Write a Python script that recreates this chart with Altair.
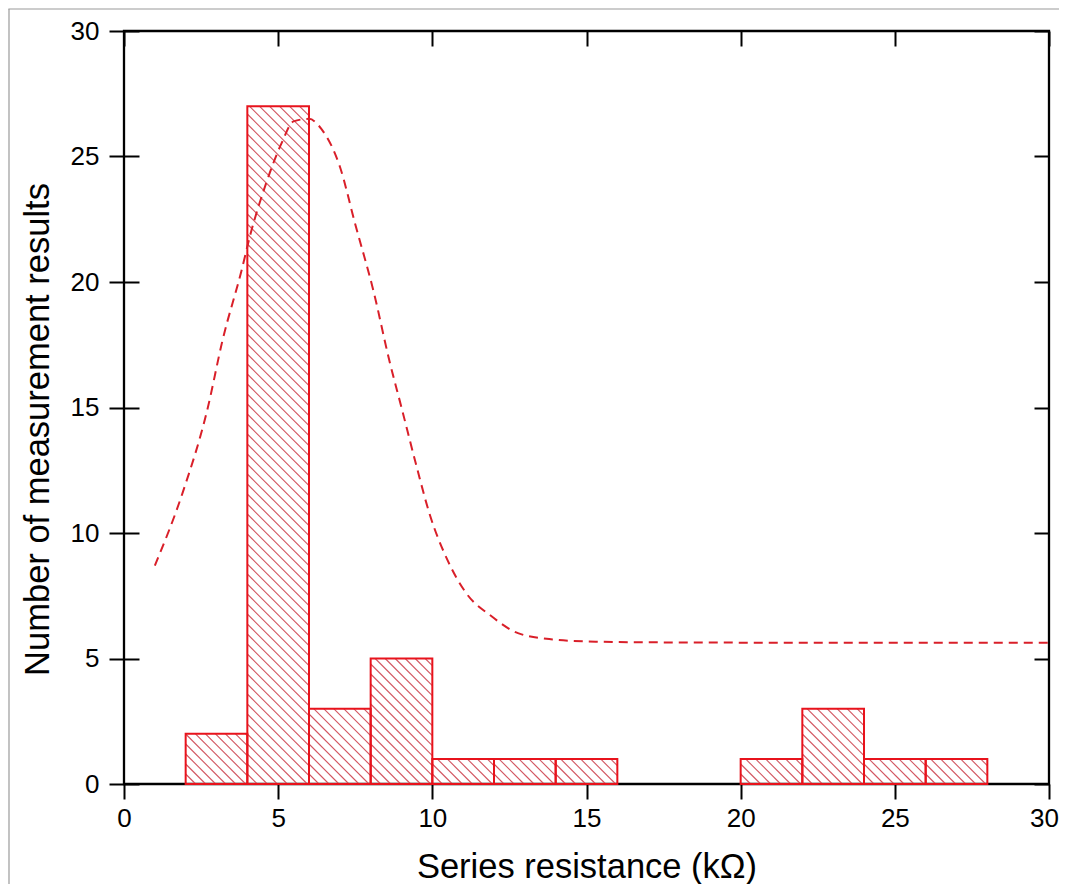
import altair as alt
import pandas as pd

# ---- data ----
bin_start = [2, 4, 6, 8, 10, 12, 14, 20, 22, 24, 26]
bin_end = [4, 6, 8, 10, 12, 14, 16, 22, 24, 26, 28]
counts = [2, 27, 3, 5, 1, 1, 1, 1, 3, 1, 1]

fit_x = [1.0, 1.9, 2.7, 3.2, 3.8, 4.1, 4.6, 5.1, 5.5, 6.0, 6.4, 7.0, 7.5, 8.1,
         8.6, 9.0, 9.5, 9.9, 10.5, 11.1, 11.9, 12.8, 13.9, 15.3, 17.8, 22.0, 30.0]
fit_y = [8.7, 11.6, 14.9, 17.7, 20.4, 21.9, 23.9, 25.5, 26.4, 26.5, 26.1, 24.6, 22.3, 19.6,
         16.9, 15.0, 12.6, 10.8, 8.9, 7.6, 6.7, 6.0, 5.76, 5.67, 5.64, 5.63, 5.63]

x_ticks = [0, 5, 10, 15, 20, 25, 30]
y_ticks = [0, 5, 10, 15, 20, 25, 30]

# ---- layout constants ----
W, H = 925, 753
PAD = {"left": 116, "top": 23, "right": 10, "bottom": 100}
XMAX, YMAX = 30, 30
FONT = "Liberation Sans"
BAR_RED = "#e8131c"
HATCH = "#d25560"
CURVE_RED = "#d91f29"

bars = pd.DataFrame({"x0": bin_start, "x1": bin_end, "n": counts, "zero": [0] * len(counts)})
fit = pd.DataFrame({"x": fit_x, "y": fit_y})

# hatch segments ("\\" pattern) clipped to each bar, spacing in pixels
px_x = W / XMAX
px_y = H / YMAX
k = px_x / px_y
dt = 10 / px_y
rows = []
for x0, x1, h in zip(bin_start, bin_end, counts):
    t = dt
    tmax = h + k * (x1 - x0)
    while t < tmax:
        xs = max(x0, x0 + (t - h) / k)
        ys = t - k * (xs - x0)
        xe = min(x1, x0 + t / k)
        ye = t - k * (xe - x0)
        if xe > xs:
            rows.append({"xs": xs, "ys": ys, "xe": xe, "ye": ye})
        t += dt
hatch_df = pd.DataFrame(rows)

xscale = alt.Scale(domain=[0, XMAX], nice=False, zero=False)
yscale = alt.Scale(domain=[0, YMAX], nice=False, zero=False)

common = dict(grid=False, domain=False, tickColor="black", tickWidth=2, tickSize=15)

ax_bottom = alt.Axis(orient="bottom", values=x_ticks, format="d", labelFont=FONT,
                     labelFontSize=26, labelColor="black", labelPadding=6, labelFlush=False,
                     labelOffset={"condition": {"test": "datum.value === 30", "value": -5}, "value": 0},
                     title="Series resistance (kΩ)", titleFont=FONT, titleFontSize=34.5,
                     titleFontWeight="normal", titleColor="black", titleY=93,
                     titleBaseline="alphabetic", **common)
ax_left = alt.Axis(orient="left", values=y_ticks, format="d", labelFont=FONT,
                   labelFontSize=26, labelColor="black", labelPadding=10, labelFlush=False,
                   title="Number of measurement results", titleFont=FONT, titleFontSize=34.5,
                   titleFontWeight="normal", titleColor="black", titleX=-76, titleY=398,
                   titleBaseline="alphabetic", **common)
ax_top_in = alt.Axis(orient="top", offset=-15, values=x_ticks, labels=False, title="", **common)
ax_left_in = alt.Axis(orient="left", offset=-15, values=y_ticks, labels=False, title="", **common)
ax_right_in = alt.Axis(orient="right", offset=-15, values=y_ticks, labels=False, title="", **common)

hatch = alt.Chart(hatch_df).mark_rule(color=HATCH, strokeWidth=1.1).encode(
    x=alt.X("xs:Q", scale=xscale, axis=ax_bottom),
    y=alt.Y("ys:Q", scale=yscale, axis=ax_left),
    x2="xe:Q",
    y2="ye:Q",
)

rects = alt.Chart(bars).mark_rect(fill="white", fillOpacity=0, stroke=BAR_RED, strokeWidth=2).encode(
    x=alt.X("x0:Q", scale=xscale, axis=ax_top_in),
    x2="x1:Q",
    y=alt.Y("n:Q", scale=yscale, axis=ax_left_in),
    y2="zero:Q",
)

curve = alt.Chart(fit).mark_line(color=CURVE_RED, strokeWidth=2, strokeDash=[9, 6],
                                 interpolate="monotone").encode(
    x=alt.X("x:Q", scale=xscale, axis=None),
    y=alt.Y("y:Q", scale=yscale, axis=ax_right_in),
)

# thin grey border (left and top edges) of the original picture, as thin filled strips
one = pd.DataFrame({"b": [0]})
right_edge = W + PAD["right"]
bottom_edge = H + PAD["bottom"]
border_left = alt.Chart(one).mark_rect(fill="#9a9a9a", strokeWidth=0).encode(
    x=alt.value(-115.6), x2=alt.value(-114.4), y=alt.value(-22), y2=alt.value(bottom_edge)
)
border_top = alt.Chart(one).mark_rect(fill="#9a9a9a", strokeWidth=0).encode(
    x=alt.value(-115.6), x2=alt.value(right_edge), y=alt.value(-22.6), y2=alt.value(-21.4)
)

chart = alt.layer(border_left, border_top, hatch, rects, curve).resolve_axis(
    x="independent", y="independent"
).properties(
    width=W, height=H,
    autosize=alt.AutoSizeParams(type="none"),
    padding=PAD,
    background="white",
).configure_view(stroke="black", strokeWidth=2.3)

chart.save("out.html", embed_options={"renderer": "svg", "actions": False})
